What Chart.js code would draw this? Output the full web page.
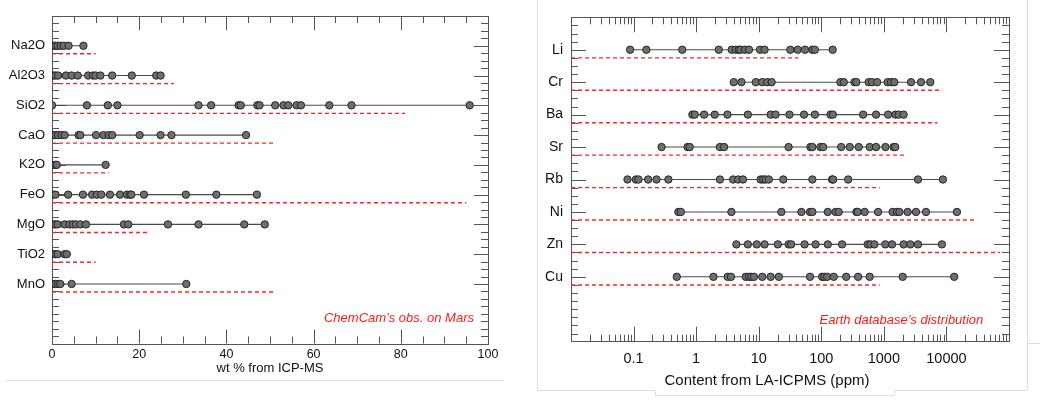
<!DOCTYPE html>
<html><head><meta charset="utf-8">
<script src="https://cdn.jsdelivr.net/npm/chart.js@4.4.0/dist/chart.umd.min.js"></script>
<style>
html,body{margin:0;padding:0;background:#fff;width:1040px;height:403px;overflow:hidden;position:relative}
.g{position:absolute;background:#dedede}
#c1{position:absolute;left:0;top:0}
#c2{position:absolute;left:540px;top:0}
</style></head><body>
<div class="g" style="left:5px;top:380px;width:499px;height:1px"></div>
<div class="g" style="left:537px;top:0px;width:1px;height:390px"></div>
<div class="g" style="left:537px;top:390px;width:118px;height:1px"></div>
<div class="g" style="left:655px;top:390px;width:1px;height:5px"></div>
<div class="g" style="left:655px;top:395px;width:239px;height:1px"></div>
<div class="g" style="left:894px;top:390px;width:1px;height:5px"></div>
<div class="g" style="left:894px;top:390px;width:133px;height:1px"></div>
<div class="g" style="left:1027px;top:0px;width:1px;height:390px"></div>
<div class="g" style="left:1027px;top:343px;width:13px;height:1px"></div>
<canvas id="c1" width="500" height="380"></canvas>
<canvas id="c2" width="500" height="395"></canvas>
<script>
// ---------- Left panel data (wt %) ----------
const leftCategories = ['Na2O','Al2O3','SiO2','CaO','K2O','FeO','MgO','TiO2','MnO'];
const na2o  = [0.3, 0.8, 1.3, 2.0, 2.7, 3.8, 7.2];
const al2o3 = [0.3, 0.8, 1.4, 3.2, 4.5, 5.9, 8.3, 9.4, 10.0, 11.1, 13.8, 18.3, 23.9, 24.9];
const sio2  = [0, 8.0, 12.8, 15.0, 33.6, 36.5, 42.8, 43.3, 47.1, 47.6, 51.2, 53.1, 54.2, 56.1, 57.1, 63.6, 68.7, 95.8];
const cao   = [0.2, 0.8, 1.4, 2.2, 2.9, 6.1, 6.5, 10.1, 11.8, 13.0, 13.8, 20.1, 24.9, 27.4, 44.5];
const k2o   = [0.2, 0.8, 1.1, 12.3];
const feo   = [0.2, 0.8, 3.7, 7.1, 9.2, 10.3, 11.3, 13.3, 15.6, 17.2, 17.9, 18.2, 21.1, 30.7, 37.7, 47.0];
const mgo   = [0.2, 0.8, 1.3, 2.9, 4.0, 4.8, 5.5, 6.5, 7.8, 16.5, 17.5, 26.6, 33.6, 44.1, 48.8];
const tio2  = [0.2, 0.8, 1.3, 2.9, 3.4];
const mno   = [0.2, 0.8, 1.4, 1.9, 4.5, 30.8];
const leftValues = [na2o, al2o3, sio2, cao, k2o, feo, mgo, tio2, mno];
const leftEarthMax = [10, 28, 81, 51, 13, 95, 22, 10, 51];
const leftXTickLabels = [0, 20, 40, 60, 80, 100];
const leftXTitle = 'wt % from ICP-MS';
const leftNote = 'ChemCam\u2019s obs. on Mars';

// ---------- Right panel data (ppm) ----------
const rightCategories = ['Li','Cr','Ba','Sr','Rb','Ni','Zn','Cu'];
const li = [0.088, 0.16, 0.60, 2.3, 3.7, 4.3, 4.8, 5.1, 6.0, 7.0, 10.5, 12.4, 32, 42, 55, 72, 79, 152];
const cr = [4.0, 5.3, 9.0, 11.4, 13.7, 16.1, 202, 229, 339, 364, 572, 649, 780, 1150, 1300, 1470, 2720, 3920, 5520];
const ba = [0.87, 0.95, 1.34, 1.98, 3.16, 6.7, 15.5, 18.6, 31, 53, 79, 140, 153, 466, 751, 1170, 1530, 1720, 2070];
const sr = [0.28, 0.73, 0.79, 2.4, 2.8, 30, 67, 72, 97, 107, 208, 285, 397, 594, 751, 1060, 1430, 1520];
const rb = [0.080, 0.109, 0.120, 0.171, 0.233, 0.36, 2.4, 3.9, 4.7, 5.6, 10.7, 11.8, 12.9, 14.5, 24.7, 72, 149, 155, 269, 3510, 8790];
const ni = [0.52, 0.57, 3.66, 23, 48, 66, 72, 127, 169, 190, 364, 382, 494, 809, 1380, 1620, 1770, 2400, 3260, 4710, 14700];
const zn = [4.4, 6.7, 9.3, 12.4, 20.2, 30, 33, 54, 81, 127, 215, 552, 610, 705, 1057, 1350, 2070, 2650, 3510, 8470];
const cu = [0.49, 1.89, 3.2, 3.6, 6.2, 7.0, 7.6, 8.4, 11.4, 15.5, 21, 66, 103, 112, 124, 158, 250, 388, 594, 2000, 13300];
const rightValues = [li, cr, ba, sr, rb, ni, zn, cu];
const rightEarthMax = [43, 8200, 7200, 2100, 860, 29000, 72000, 860];
const rightXTickLabels = [0.1, 1, 10, 100, 1000, 10000];
const rightXTitle = 'Content from LA-ICPMS (ppm)';
const rightNote = 'Earth database\u2019s distribution';

const FONT = '"Liberation Sans", Arial, Helvetica, sans-serif';
const TXT = '#111';

function buildDatasets(values, earthMax, earthStart, dashOffset) {
  const ds = [];
  values.forEach((arr, i) => {
    ds.push({
      data: arr.map(v => ({x: v, y: i})),
      showLine: true,
      borderColor: '#4a4a4a',
      borderWidth: 1.1,
      pointRadius: 3.7,
      pointBackgroundColor: '#6e6e6e',
      pointBorderColor: '#262626',
      pointBorderWidth: 1,
      order: 1
    });
  });
  earthMax.forEach((m, i) => {
    ds.push({
      data: [{x: earthStart, y: i + dashOffset}, {x: m, y: i + dashOffset}],
      showLine: true,
      borderColor: '#ff2424',
      borderWidth: 1.4,
      borderDash: [4, 3],
      pointRadius: 0,
      order: 2
    });
  });
  return ds;
}

const frameTicks = {
  id: 'frameTicks',
  beforeDatasetsDraw(chart, args, o) {
    const {ctx, chartArea: a, scales: {x, y}} = chart;
    ctx.save();
    ctx.strokeStyle = '#555';
    ctx.lineWidth = 1;
    ctx.beginPath();
    o.xTicks.forEach(t => {
      const px = Math.round(x.getPixelForValue(t.v)) + 0.5;
      const L = t.major ? o.major : o.minor;
      ctx.moveTo(px, a.bottom); ctx.lineTo(px, a.bottom - L);
      ctx.moveTo(px, a.top); ctx.lineTo(px, a.top + L);
    });
    o.yTicks.forEach(t => {
      const py = Math.round(y.getPixelForValue(t.v)) + 0.5;
      const L = t.major ? o.major : o.minor;
      ctx.moveTo(a.left, py); ctx.lineTo(a.left + L, py);
      ctx.moveTo(a.right, py); ctx.lineTo(a.right - L, py);
    });
    ctx.stroke();
    ctx.strokeRect(Math.round(a.left) + 0.5, Math.round(a.top) + 0.5, Math.round(a.right - a.left), Math.round(a.bottom - a.top));
    ctx.restore();
  },
  afterDatasetsDraw(chart, args, o) {
    const {ctx, chartArea: a} = chart;
    ctx.save();
    ctx.fillStyle = '#ff1a1a';
    ctx.font = 'italic 13px ' + FONT;
    ctx.textAlign = 'right';
    ctx.textBaseline = 'middle';
    ctx.fillText(o.note, a.right - o.noteDx, a.bottom - o.noteDy);
    if (o.title) {
      ctx.fillStyle = TXT;
      ctx.font = o.title.size + 'px ' + FONT;
      ctx.textAlign = 'center';
      ctx.fillText(o.title.text, o.title.cx, o.title.cy);
    }
    ctx.restore();
  }
};

// tick marks along axes
const leftXTicks = [];
for (let v = 5; v < 100; v += 5) leftXTicks.push({v, major: v % 20 === 0});
const leftYTicks = [];
for (let k = -3; k < 40; k++) { const v = k / 4; if (v > -1 && v < 10) leftYTicks.push({v, major: k % 4 === 0 && v >= 0 && v <= 8}); }
const rightXTicks = [];
for (let e = -2; e <= 4; e++) for (let m = 1; m <= 9; m++) { const v = m * Math.pow(10, e); if (v > 0.011 && v < 99000) rightXTicks.push({v, major: m === 1}); }
const rightYTicks = [];
for (let k = -3; k < 36; k++) { const v = k / 4; if (v > -1 && v < 9) rightYTicks.push({v, major: k % 4 === 0 && v >= 0 && v <= 7}); }

const noPadX = h => s => { s.height = h; s.paddingLeft = 0; s.paddingRight = 0; };
const noPadY = w => s => { s.width = w; s.paddingTop = 0; s.paddingBottom = 0; };

new Chart(document.getElementById('c1'), {
  type: 'scatter',
  data: {datasets: buildDatasets(leftValues, leftEarthMax, 0, 0.27)},
  options: {
    responsive: false, animation: false,
    layout: {padding: {top: 16, right: 12, left: 0, bottom: 0}},
    plugins: {
      legend: {display: false}, tooltip: {enabled: false},
      frameTicks: {xTicks: leftXTicks, yTicks: leftYTicks, major: 14, minor: 7, note: leftNote, noteDx: 14, noteDy: 25.5}
    },
    scales: {
      x: {
        type: 'linear', min: 0, max: 100,
        grid: {display: false, drawTicks: false}, border: {display: false},
        afterBuildTicks: s => { s.ticks = leftXTickLabels.map(v => ({value: v})); },
        ticks: {font: {family: FONT, size: 12.5}, color: TXT, padding: 4, maxRotation: 0, autoSkip: false},
        title: {display: true, text: leftXTitle, color: TXT, font: {family: FONT, size: 13}, padding: {top: 0, bottom: 4}},
        afterFit: noPadX(36.5)
      },
      y: {
        type: 'linear', reverse: true, min: -1, max: 10,
        grid: {display: false, drawTicks: false}, border: {display: false},
        afterBuildTicks: s => { s.ticks = leftCategories.map((c, i) => ({value: i})); },
        ticks: {callback: v => leftCategories[v], font: {family: FONT, size: 13}, color: TXT, padding: 7, autoSkip: false},
        afterFit: noPadY(52)
      }
    }
  },
  plugins: [frameTicks]
});

new Chart(document.getElementById('c2'), {
  type: 'scatter',
  data: {datasets: buildDatasets(rightValues, rightEarthMax, 0.01, 0.25)},
  options: {
    responsive: false, animation: false,
    layout: {padding: {top: 17.3, right: 31, left: 0, bottom: 0}},
    plugins: {
      legend: {display: false}, tooltip: {enabled: false},
      frameTicks: {xTicks: rightXTicks, yTicks: rightYTicks, major: 15, minor: 7, note: rightNote, noteDx: 25.7, noteDy: 21,
                   title: {text: rightXTitle, size: 15, cx: 227, cy: 381}}
    },
    scales: {
      x: {
        type: 'logarithmic', min: 0.01, max: 100000,
        grid: {display: false, drawTicks: false}, border: {display: false},
        afterBuildTicks: s => { s.ticks = rightXTickLabels.map(v => ({value: v})); },
        ticks: {callback: v => String(v), font: {family: FONT, size: 14.5}, color: TXT, padding: 9, maxRotation: 0, autoSkip: false},
        afterFit: noPadX(53.3)
      },
      y: {
        type: 'linear', reverse: true, min: -1, max: 9,
        grid: {display: false, drawTicks: false}, border: {display: false},
        afterBuildTicks: s => { s.ticks = rightCategories.map((c, i) => ({value: i})); },
        ticks: {callback: v => rightCategories[v], font: {family: FONT, size: 14}, color: TXT, padding: 8, autoSkip: false},
        afterFit: noPadY(31)
      }
    }
  },
  plugins: [frameTicks]
});
</script>
</body></html>
